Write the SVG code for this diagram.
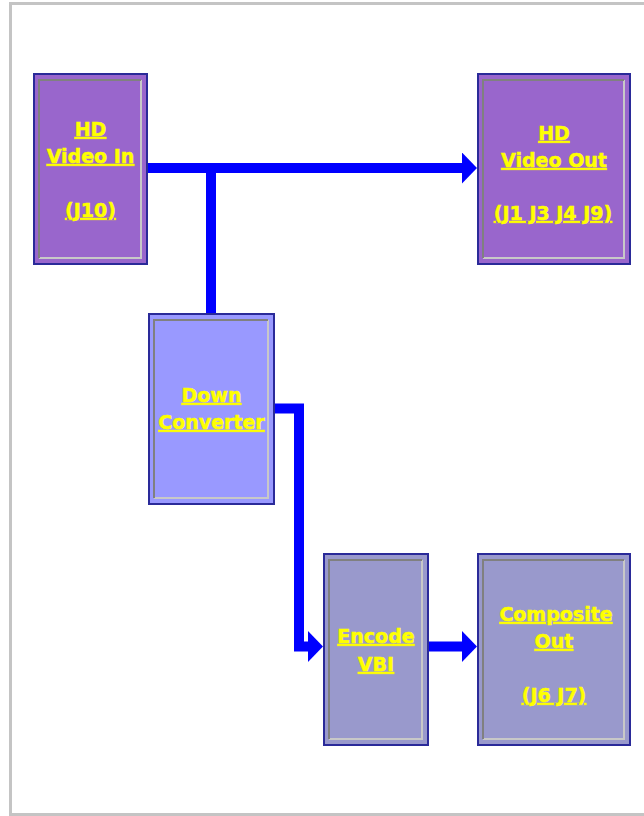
<svg xmlns="http://www.w3.org/2000/svg" width="644" height="816" viewBox="0 0 644 816">
<style>
.box{stroke:#2a2a99;stroke-width:2}
.hd{fill:#9966cc}
.dc{fill:#9999ff}
.gr{fill:#9999cc}
.hi{fill:none;stroke:#c8c8c8;stroke-width:2}
.lo{fill:none;stroke:#808080;stroke-width:2}
.t{font-family:"DejaVu Sans","Verdana",sans-serif;font-weight:bold;font-size:19px;fill:#ffff00;stroke:#ffff00;stroke-width:0.5;text-anchor:middle;text-decoration:underline}
.c{fill:none;stroke:#0000ff;stroke-width:10;stroke-linejoin:miter}
</style>
<defs>
<marker id="ah" markerUnits="userSpaceOnUse" markerWidth="16" markerHeight="32" refX="1" refY="15.5" orient="auto">
<path d="M0,0 L15,15.5 L0,31 Z" fill="#0000ff"/>
</marker>
</defs>
<rect x="0" y="0" width="644" height="816" fill="#ffffff"/>
<rect x="10.5" y="3.5" width="700" height="811" fill="#ffffff" stroke="#c4c4c4" stroke-width="3"/>

<g id="connectors">
<path class="c" d="M148,168 H463" marker-end="url(#ah)"/>
<path class="c" d="M211,168 V313"/>
<path class="c" d="M275,408.5 H299 V646.5 H309" marker-end="url(#ah)"/>
<path class="c" d="M429,646.5 H463" marker-end="url(#ah)"/>
</g>

<g id="hd-video-in">
<rect class="box hd" x="34" y="74" width="113" height="190"/>
<polyline class="hi" points="39,258 141,258 141,80"/>
<polyline class="lo" points="39,258 39,80 141,80"/>
<text class="t" x="90.5" y="136">HD</text>
<text class="t" x="90.5" y="163">Video In</text>
<text class="t" x="90.5" y="217">(J10)</text>
</g>

<g id="hd-video-out">
<rect class="box hd" x="478" y="74" width="152" height="190"/>
<polyline class="hi" points="483,258 624,258 624,80"/>
<polyline class="lo" points="483,258 483,80 624,80"/>
<text class="t" x="554" y="140">HD</text>
<text class="t" x="554" y="167">Video Out</text>
<text class="t" x="553" y="220">(J1 J3 J4 J9)</text>
</g>

<g id="down-converter">
<rect class="box dc" x="149" y="314" width="125" height="190"/>
<polyline class="hi" points="154,498 268,498 268,320"/>
<polyline class="lo" points="154,498 154,320 268,320"/>
<text class="t" x="211.5" y="402">Down</text>
<text class="t" x="211.5" y="429">Converter</text>
</g>

<g id="encode-vbi">
<rect class="box gr" x="324" y="554" width="104" height="191"/>
<polyline class="hi" points="329,739 422,739 422,560"/>
<polyline class="lo" points="329,739 329,560 422,560"/>
<text class="t" x="376" y="643">Encode</text>
<text class="t" x="376" y="671">VBI</text>
</g>

<g id="composite-out">
<rect class="box gr" x="478" y="554" width="152" height="191"/>
<polyline class="hi" points="483,739 624,739 624,560"/>
<polyline class="lo" points="483,739 483,560 624,560"/>
<text class="t" x="556" y="621">Composite</text>
<text class="t" x="554" y="648">Out</text>
<text class="t" x="554" y="702">(J6 J7)</text>
</g>
</svg>
